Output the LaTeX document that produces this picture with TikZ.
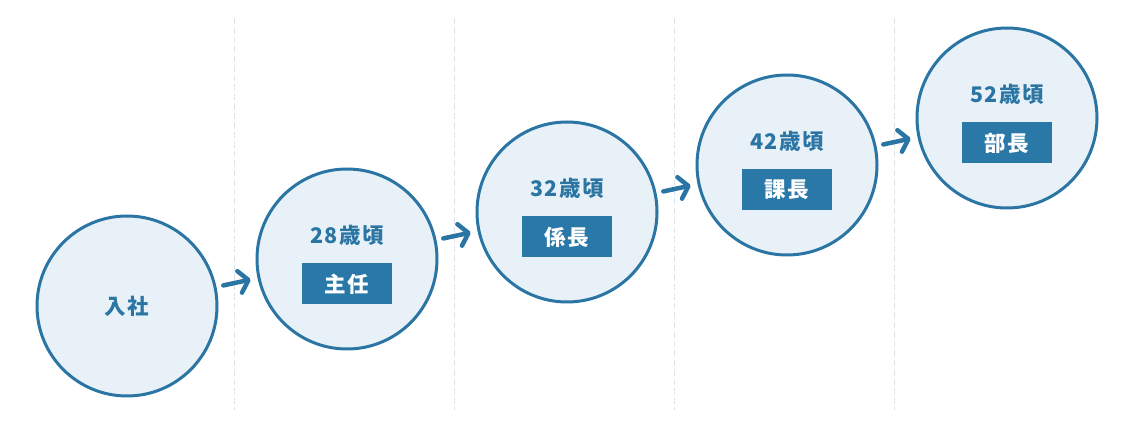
\documentclass[tikz,border=0pt]{standalone}
\usepackage{fontspec}
\newfontfamily\jpfont{Noto Sans CJK JP}[LetterSpace=6]
\usetikzlibrary{arrows.meta}

\definecolor{stageblue}{HTML}{2A75A3}
\definecolor{stagefill}{HTML}{E8F1F7}
\definecolor{postblue}{HTML}{2A78A8}
\definecolor{divgray}{HTML}{DFE3E7}

\tikzset{
  stage/.style={circle, draw=stageblue, fill=stagefill, line width=3pt, minimum size=180pt, inner sep=0pt,
    text=stageblue, font=\jpfont\bfseries\fontsize{21.5}{24}\selectfont},
  age/.style={inner sep=0pt, text=stageblue, font=\jpfont\bfseries\fontsize{21.5}{24}\selectfont},
  post/.style={fill=postblue, text=white, minimum width=90pt, minimum height=41pt, inner sep=0pt,
    font=\jpfont\bfseries\fontsize{21.5}{24}\selectfont},
  divider/.style={divgray, line width=1.5pt, dash pattern=on 6.5pt off 3pt},
  flow/.style={stageblue, line width=4.5pt, line cap=round,
    -{Straight Barb[length=9pt, width=22pt, round]}, shorten <=7pt, shorten >=7pt}
}

\begin{document}
\begin{tikzpicture}[x=1pt, y=-1pt]
    \useasboundingbox (0,0) rectangle (1136,427);

    % Dividers
    \draw[divider] (234.5,18) -- (234.5,410);
    \draw[divider] (454.5,18) -- (454.5,410);
    \draw[divider] (674.5,18) -- (674.5,410);
    \draw[divider] (894.5,18) -- (894.5,410);

    % Nodes
    \node[stage] at (127,306)  (c1)  {入社};
    \node[stage] at (347,259)  (c2)  {};
    \node[stage] at (567,212)  (c3)  {};
    \node[stage] at (787,165)  (c4)  {};
    \node[stage] at (1007,118) (c5)  {};

    \node[age]  at (347,235) (a2) {28歳頃};
    \node[post] at (347,284) (p2) {主任};
    \node[age]  at (567,188) (a3) {32歳頃};
    \node[post] at (567,237) (p3) {係長};
    \node[age]  at (787,141) (a4) {42歳頃};
    \node[post] at (787,190) (p4) {課長};
    \node[age]  at (1007,94) (a5) {52歳頃};
    \node[post] at (1007,143) (p5) {部長};

    \draw[flow]  (c1) edge (c2);
    \draw[flow]  (c2) edge (c3);
    \draw[flow]  (c3) edge (c4);
    \draw[flow]  (c4) edge (c5);
  \end{tikzpicture}
\end{document}
